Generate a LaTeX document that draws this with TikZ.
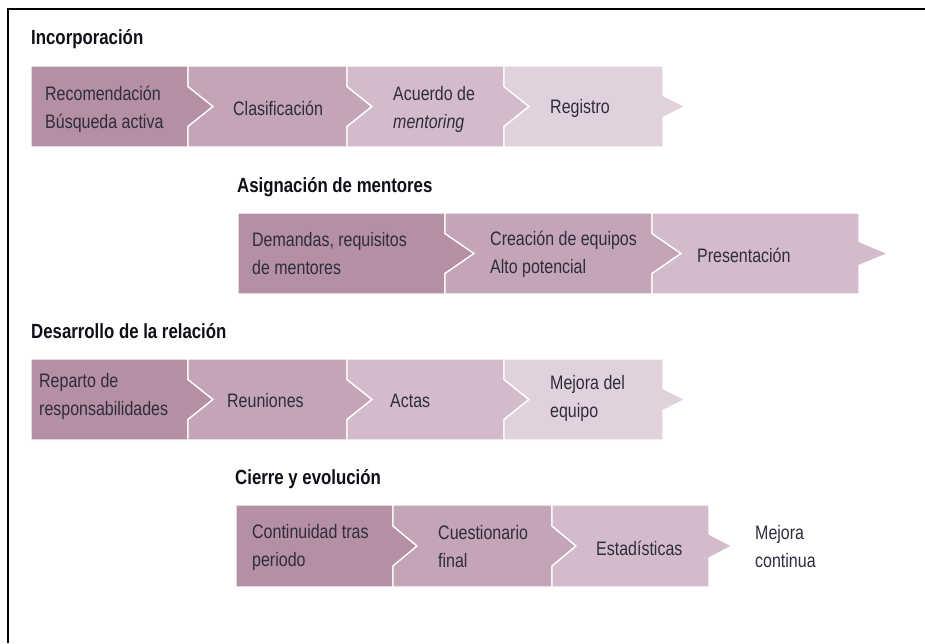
\documentclass[tikz,border=0pt]{standalone}
\usepackage{fontspec}
\setmainfont{Liberation Sans}[FakeStretch=0.82]
\begin{document}
\definecolor{stageA}{RGB}{181,143,163}
\definecolor{stageB}{RGB}{196,164,183}
\definecolor{stageC}{RGB}{212,187,203}
\definecolor{stageD}{RGB}{225,209,220}
\definecolor{labeltext}{RGB}{46,44,62}
\definecolor{headtext}{RGB}{15,15,25}
% #1 fill, #2 left x, #3 right x, #4 top y, #5 bottom y,
% #6 depth of the notch on the left, #7 depth and #8 half height of the tip on the right
\newcommand{\stagebox}[8]{%
  \pgfmathsetmacro\stagemid{(#4+#5)/2}%
  \filldraw[fill=#1, draw=white, line width=1.3pt, line join=miter]
    (#2,#4) -- (#3,#4) -- (#3,\stagemid-#8) -- (#3+#7,\stagemid) -- (#3,\stagemid+#8)
    -- (#3,#5) -- (#2,#5) -- (#2,\stagemid+20) -- (#2+#6,\stagemid) -- (#2,\stagemid-20) -- cycle;}
\begin{tikzpicture}[x=1pt,y=-1pt,
  heading/.style={anchor=base west, inner sep=0pt, font=\fontsize{20.5}{24}\selectfont\bfseries, text=headtext},
  label/.style={anchor=west, inner sep=0pt, align=left, font=\fontsize{19.5}{28}\selectfont, text=labeltext}]
\useasboundingbox (0,0) rectangle (925,643);
\fill[white] (0,0) rectangle (925,643);
% frame
\draw[line width=2.6pt, black] (8,643) -- (8,9) -- (925,9);

% Incorporación
\node[heading] (h1) at (31,44) {Incorporación};
\stagebox{stageA}{31}{188}{66}{147}{0}{25}{20}
\stagebox{stageB}{188}{347}{66}{147}{25}{25}{20}
\stagebox{stageC}{347}{504}{66}{147}{25}{25}{20}
\stagebox{stageD}{504}{663}{66}{147}{25}{22}{11}
\node[label] (a1) at (45,109) {Recomendación\\Búsqueda activa};
\node[label] (a2) at (233,108) {Clasificación};
\node[label] (a3) at (393,109) {Acuerdo de\\\textit{mentoring}};
\node[label] (a4) at (550,108) {Registro};

% Asignación de mentores
\node[heading] (h2) at (237,192) {Asignación de mentores};
\stagebox{stageA}{238}{445}{213}{294}{0}{29}{20}
\stagebox{stageB}{445}{652}{213}{294}{29}{29}{20}
\stagebox{stageC}{652}{859}{213}{294}{29}{29}{12}
\node[label] (b1) at (252,254) {Demandas, requisitos\\de mentores};
\node[label] (b2) at (490,254) {Creación de equipos\\Alto potencial};
\node[label] (b3) at (697,255) {Presentación};

% Desarrollo de la relación
\node[heading] (h3) at (31,338) {Desarrollo de la relación};
\stagebox{stageA}{31}{188}{359}{440}{0}{25}{20}
\stagebox{stageB}{188}{347}{359}{440}{25}{25}{20}
\stagebox{stageC}{347}{504}{359}{440}{25}{25}{20}
\stagebox{stageD}{504}{663}{359}{440}{25}{22}{11}
\node[label] (c1) at (39,396) {Reparto de\\responsabilidades};
\node[label] (c2) at (227,401) {Reuniones};
\node[label] (c3) at (390,401) {Actas};
\node[label] (c4) at (550,398) {Mejora del\\equipo};

% Cierre y evolución
\node[heading] (h4) at (235,484) {Cierre y evolución};
\stagebox{stageA}{236}{393}{505}{587}{0}{24}{20}
\stagebox{stageB}{393}{552}{505}{587}{24}{24}{20}
\stagebox{stageC}{552}{709}{505}{587}{24}{23}{12}
\node[label] (d1) at (252,547) {Continuidad tras\\periodo};
\node[label] (d2) at (438,547) {Cuestionario\\final};
\node[label] (d3) at (596,548) {Estadísticas};
\node[label] (d4) at (755,547) {Mejora\\continua};
\end{tikzpicture}
\end{document}
